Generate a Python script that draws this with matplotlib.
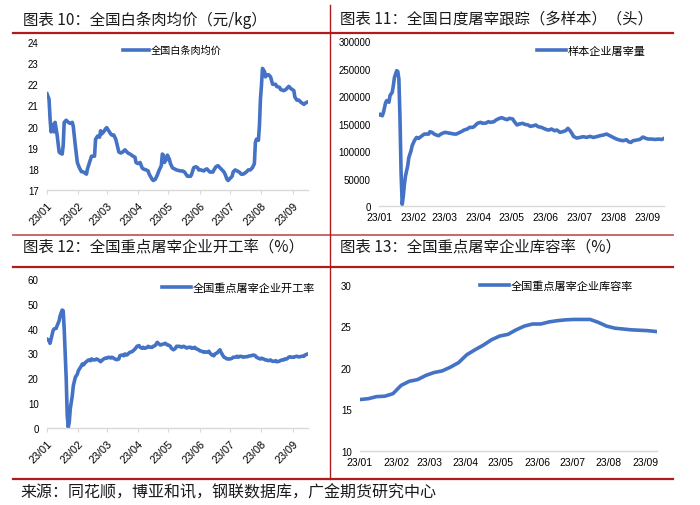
import numpy as np
import matplotlib
matplotlib.use("Agg")
import matplotlib.pyplot as plt
from matplotlib.lines import Line2D

plt.rcParams['font.family'] = ['Liberation Sans', 'Noto Sans CJK SC', 'DejaVu Sans']
CJK = ['Noto Sans CJK SC', 'DejaVu Sans']

# ---------------- data (days since 2023-01-01) ----------------
month_ticks = [0, 31, 59, 90, 120, 151, 181, 212, 243]
month_labels = ['23/01', '23/02', '23/03', '23/04', '23/05', '23/06', '23/07', '23/08', '23/09']

price_days = [0, 2, 3, 4, 6, 7, 8, 9, 10, 12, 13, 15, 16, 17, 19, 21, 23, 25, 26, 28, 30, 32, 34, 36,
              39, 40, 43, 44, 46, 47, 48, 50, 52, 53, 54, 56, 58, 59, 61, 63, 64, 66, 68, 69, 71, 73,
              75, 77, 78, 80, 82, 85, 87, 88, 90, 92, 94, 95, 98, 100, 101, 104, 105, 107, 109, 111,
              113, 114, 115, 116, 118, 119, 120, 121, 122, 124, 126, 128, 132, 134, 136, 138, 139,
              142, 143, 145, 147, 149, 150, 152, 155, 156, 158, 160, 161, 164, 165, 167, 169, 171,
              173, 175, 176, 178, 179, 181, 183, 184, 186, 188, 190, 192, 194, 197, 199, 201, 203,
              205, 206, 207, 209, 210, 211, 212, 213, 215, 216, 217, 219, 221, 223, 226, 227, 230,
              231, 234, 236, 239, 241, 244, 245, 247, 249, 251, 254, 255, 257]
price_vals = [21.55, 21.3, 20.4, 19.75, 20.1, 19.75, 20.2, 19.9, 19.6, 18.8, 18.75, 18.7, 19.1, 20.2,
              20.3, 20.2, 20.15, 20.2, 20.0, 19.1, 18.3, 18.05, 17.87, 17.85, 17.75, 18.0, 18.45,
              18.6, 18.6, 18.6, 19.4, 19.55, 19.5, 19.8, 19.65, 19.75, 19.9, 19.95, 19.8, 19.65,
              19.6, 19.6, 19.4, 19.2, 18.8, 18.75, 18.8, 18.9, 18.85, 18.75, 18.7, 18.6, 18.55,
              18.3, 18.25, 18.3, 18.05, 18.0, 17.95, 17.9, 17.75, 17.5, 17.45, 17.5, 17.7, 17.95,
              18.15, 18.7, 18.65, 18.3, 18.45, 18.65, 18.55, 18.45, 18.25, 18.05, 18.0, 17.95,
              17.9, 17.9, 17.85, 17.7, 17.65, 17.65, 17.75, 18.05, 18.1, 18.05, 17.95, 17.95,
              17.9, 17.95, 18.0, 17.9, 17.85, 17.85, 17.95, 18.1, 18.15, 18.05, 17.95, 17.85,
              17.75, 17.5, 17.45, 17.55, 17.65, 17.85, 17.95, 17.9, 17.85, 17.75, 17.75, 17.85,
              17.95, 17.95, 18.05, 18.25, 19.25, 19.4, 19.35, 20.05, 21.3, 21.95, 22.75, 22.6,
              22.35, 22.45, 22.45, 22.35, 22.0, 22.0, 21.9, 21.85, 21.75, 21.7, 21.75, 21.9, 21.8,
              21.7, 21.4, 21.25, 21.25, 21.15, 21.05, 21.1, 21.15]

slaughter_days = [0, 1, 3, 4, 6, 7, 9, 10, 12, 13, 14, 16, 17, 18, 19, 20, 21, 22, 23, 24, 26, 27, 29,
                  30, 32, 34, 36, 37, 39, 41, 43, 45, 46, 48, 50, 52, 54, 56, 58, 60, 63, 65, 68, 70,
                  72, 75, 77, 80, 82, 85, 87, 89, 92, 94, 97, 99, 101, 104, 106, 109, 111, 114, 116,
                  118, 121, 123, 125, 127, 130, 132, 135, 137, 140, 142, 144, 147, 149, 152, 154,
                  156, 159, 161, 164, 166, 169, 171, 173, 175, 176, 179, 182, 185, 188, 191, 194,
                  197, 200, 203, 206, 209, 212, 215, 218, 221, 224, 226, 228, 230, 233, 236, 239,
                  242, 244, 247, 250, 253, 256, 258]
slaughter_vals = [165500, 167000, 164000, 170000, 188000, 191700, 188600, 200800, 207000, 219000,
                  234000, 246000, 244600, 231000, 160000, 60000, 3000, 18000, 39500, 54800, 73000,
                  88000, 100400, 109500, 118700, 124700, 123000, 124700, 127800, 130800, 130800,
                  130800, 135000, 133900, 130800, 129000, 127800, 130800, 132700, 133900, 132700,
                  132000, 130800, 130800, 132700, 135700, 138100, 140000, 143000, 143000, 146000,
                  150300, 152100, 150300, 150900, 153300, 152100, 153300, 156400, 159400, 160600,
                  158200, 157000, 159400, 158200, 152100, 147300, 149100, 150300, 148500, 147300,
                  144800, 146000, 147300, 144200, 143000, 141200, 138700, 138100, 140000, 136900,
                  138100, 133900, 135000, 136900, 141200, 136900, 130800, 126600, 123500, 124700,
                  126000, 124700, 126600, 124700, 126000, 127800, 129000, 130800, 127800, 124700,
                  121700, 119800, 118700, 120400, 116800, 115600, 118700, 119800, 121000, 125300,
                  122600, 121700, 121700, 121000, 121700, 121000, 122900]

rate_days = [0, 2, 3, 4, 6, 7, 9, 10, 12, 13, 15, 16, 17, 19, 20, 21, 22, 23, 25, 26, 28, 30, 31, 33,
             35, 36, 38, 40, 41, 43, 44, 46, 48, 49, 51, 53, 54, 56, 58, 59, 61, 63, 64, 66, 67, 69,
             71, 72, 74, 76, 77, 79, 81, 82, 84, 86, 87, 89, 91, 92, 94, 95, 97, 99, 100, 102, 104,
             105, 107, 109, 110, 112, 114, 115, 117, 119, 120, 122, 123, 125, 127, 128, 130, 132,
             133, 135, 137, 138, 140, 142, 143, 145, 146, 148, 150, 151, 153, 155, 156, 158, 160,
             161, 163, 165, 166, 168, 170, 171, 172, 174, 175, 177, 178, 181, 183, 184, 186, 188,
             189, 191, 193, 194, 196, 198, 199, 201, 202, 204, 206, 207, 209, 211, 212, 214, 216,
             217, 219, 221, 222, 224, 226, 227, 229, 230, 232, 234, 235, 237, 239, 240, 242, 244,
             245, 247, 249, 250, 252, 254, 255, 257]
rate_vals = [35.8, 35.2, 34.1, 35.8, 39.2, 39.9, 40.1, 41.2, 43.2, 45.2, 47.5, 47.2, 39.9, 19.7, 5.0,
             0.3, 2.3, 7.7, 13.0, 17.0, 20.4, 21.7, 23.1, 24.4, 25.8, 25.4, 26.4, 27.1, 27.4, 27.1,
             27.8, 27.4, 27.5, 27.8, 27.4, 26.7, 27.1, 27.8, 28.2, 28.1, 28.5, 28.2, 28.5, 28.1,
             27.8, 27.5, 27.8, 29.1, 29.4, 29.1, 29.8, 29.4, 30.2, 30.5, 30.7, 31.4, 31.8, 32.9,
             33.2, 32.5, 32.1, 32.5, 32.1, 32.5, 32.9, 32.5, 32.5, 32.9, 33.2, 34.5, 34.1, 33.4,
             33.7, 33.8, 34.1, 33.4, 33.4, 32.9, 32.1, 31.5, 32.1, 32.9, 32.9, 32.8, 32.5, 32.9,
             32.5, 32.2, 32.5, 32.5, 32.1, 32.2, 32.5, 31.8, 31.5, 31.1, 30.9, 30.5, 30.7, 30.5,
             30.9, 30.2, 29.4, 29.1, 29.8, 30.2, 31.1, 31.5, 30.5, 29.1, 28.5, 28.1, 27.8, 27.8,
             28.1, 28.5, 28.5, 28.9, 28.5, 28.9, 28.7, 28.5, 28.7, 28.7, 28.9, 29.1, 29.1, 29.4,
             29.1, 28.5, 28.1, 27.8, 28.1, 27.8, 27.4, 27.4, 27.1, 27.4, 27.0, 26.8, 27.1, 26.7,
             26.8, 27.0, 27.4, 27.4, 27.8, 27.8, 28.5, 28.7, 28.5, 28.5, 28.7, 28.9, 28.6, 28.7,
             28.9, 28.9, 29.4, 29.7]

storage_days = [0, 7, 14, 21, 28, 35, 42, 49, 56, 63, 70, 77, 84, 91, 98, 105, 112, 119, 126, 133,
                140, 147, 154, 161, 168, 175, 182, 189, 196, 203, 210, 217, 224, 231, 238, 245, 252]
storage_vals = [16.2, 16.3, 16.55, 16.6, 16.9, 17.9, 18.4, 18.6, 19.1, 19.45, 19.65, 20.1, 20.65,
                21.6, 22.2, 22.75, 23.4, 23.85, 24.05, 24.6, 25.05, 25.3, 25.3, 25.55, 25.7, 25.8,
                25.85, 25.85, 25.85, 25.5, 25.05, 24.8, 24.7, 24.6, 24.55, 24.5, 24.4]

titles = ['图表 10：全国白条肉均价（元/kg）',
          '图表 11：全国日度屠宰跟踪（多样本）（头）',
          '图表 12：全国重点屠宰企业开工率（%）',
          '图表 13：全国重点屠宰企业库容率（%）']
legend_names = ['全国白条肉均价', '样本企业屠宰量', '全国重点屠宰企业开工率', '全国重点屠宰企业库容率']
source_text = '来源：同花顺，博亚和讯，钢联数据库，广金期货研究中心'

# ---------------- figure ----------------
W, H = 700, 506
fig = plt.figure(figsize=(W / 100, H / 100), dpi=100)
fig.patch.set_facecolor('white')

BLUE = '#4472C4'
AXIS_GRAY = '#D9D9D9'
DARK_RED = '#B01C1C'
LIGHT_RED = '#C85A5A'


def px_axes(x0, y_top, x1, y_bot):
    return fig.add_axes([x0 / W, 1 - y_bot / H, (x1 - x0) / W, (y_bot - y_top) / H])


def style(ax, ylim, yticks, rotate, xmax):
    for s in ['top', 'right', 'left']:
        ax.spines[s].set_visible(False)
    ax.spines['bottom'].set_color(AXIS_GRAY)
    ax.spines['bottom'].set_linewidth(1.0)
    ax.set_xlim(0, xmax)
    ax.set_ylim(*ylim)
    ax.set_yticks(yticks)
    ax.set_yticklabels([str(v) for v in yticks], fontsize=7)
    ax.tick_params(axis='y', length=0, pad=6)
    ax.set_xticks(month_ticks)
    if rotate:
        ax.set_xticklabels(month_labels, fontsize=7.8, rotation=45, ha='right', va='top',
                           rotation_mode='anchor')
        ax.tick_params(axis='x', length=3, color=AXIS_GRAY, pad=4)
    else:
        ax.set_xticklabels(month_labels, fontsize=7.5)
        ax.tick_params(axis='x', length=0, pad=4)
    ax.set_facecolor('none')


def add_legend(ax, name, x_px, y_px, fs):
    h = Line2D([], [], color=BLUE, lw=2.6)
    leg = ax.legend([h], [name], loc='center left',
                    bbox_to_anchor=(x_px / W, 1 - y_px / H), bbox_transform=fig.transFigure,
                    frameon=False, borderpad=0, borderaxespad=0, handlelength=2.6,
                    handletextpad=0.15, prop={'family': CJK, 'size': fs})
    return leg


# Panel 1
ax1 = px_axes(47, 43, 308, 191)
ax1.plot(price_days, price_vals, color=BLUE, lw=2.6, solid_joinstyle='round')
style(ax1, (17, 24), [17, 18, 19, 20, 21, 22, 23, 24], True, 258)
add_legend(ax1, legend_names[0], 123, 51, 7.3)

# Panel 2
ax2 = px_axes(379, 42, 664, 207)
ax2.plot(slaughter_days, slaughter_vals, color=BLUE, lw=2.6, solid_joinstyle='round')
style(ax2, (0, 300000), [0, 50000, 100000, 150000, 200000, 250000, 300000], False, 258)
add_legend(ax2, legend_names[1], 537, 52, 8)

# Panel 3
ax3 = px_axes(47, 280, 308, 429)
ax3.plot(rate_days, rate_vals, color=BLUE, lw=2.6, solid_joinstyle='round')
style(ax3, (0, 60), [0, 10, 20, 30, 40, 50, 60], True, 258)
add_legend(ax3, legend_names[2], 162, 289, 8)

# Panel 4
ax4 = px_axes(360, 286, 657, 452)
ax4.plot(storage_days, storage_vals, color=BLUE, lw=2.6, solid_joinstyle='round')
style(ax4, (10, 30), [10, 15, 20, 25, 30], False, 253)
add_legend(ax4, legend_names[3], 480, 287, 8)

# Titles
title_pos = [(23, 20), (340, 20), (23, 248), (340, 248)]
for t, (x, y) in zip(titles, title_pos):
    fig.text(x / W, 1 - y / H, t, family=CJK, fontsize=11.1, ha='left', va='center',
             color='#1a1a1a')

fig.text(20 / W, 1 - 493 / H, source_text, family=CJK, fontsize=11.5, ha='left', va='center',
         color='#1a1a1a')

# Frame lines
def hline(y, x0, x1, color, lw):
    fig.add_artist(Line2D([x0 / W, x1 / W], [1 - y / H, 1 - y / H], color=color, lw=lw,
                          transform=fig.transFigure))

def vline(x, y0, y1, color, lw):
    fig.add_artist(Line2D([x / W, x / W], [1 - y0 / H, 1 - y1 / H], color=color, lw=lw,
                          transform=fig.transFigure))

hline(33.5, 13, 673, DARK_RED, 1.6)
hline(235.5, 13, 673, LIGHT_RED, 1.3)
hline(268, 13, 673, DARK_RED, 1.6)
hline(480, 13, 673, DARK_RED, 1.6)
vline(330, 6, 480, DARK_RED, 1.0)

fig.savefig('out.png', dpi=100, facecolor='white')
